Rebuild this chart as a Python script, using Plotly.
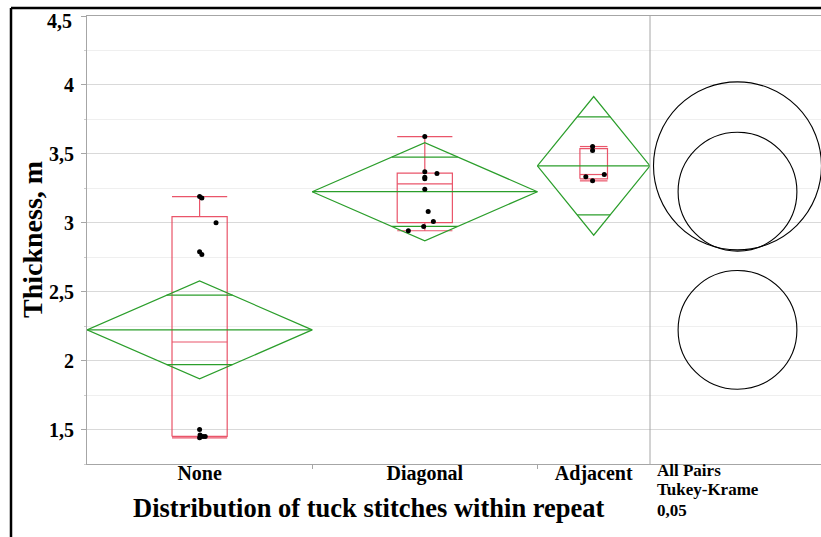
import numpy as np
import plotly.graph_objects as go

# ---- data: fabric thickness by distribution of tuck stitches ----
groups = ["None", "Diagonal", "Adjacent"]
thickness_none = [3.19, 3.18, 3.00, 2.79, 2.77, 1.50, 1.46, 1.45, 1.45, 1.44]
thickness_diagonal = [3.625, 3.370, 3.357, 3.331, 3.319, 3.244, 3.082, 3.010, 2.973, 2.942]
thickness_adjacent = [3.553, 3.524, 3.350, 3.333, 3.304]
y_ticks = [1.5, 2.0, 2.5, 3.0, 3.5, 4.0, 4.5]

# horizontal jitter of the points (x units, one entry per point)
jitter_none = [0.0, 0.1, 0.73, 0.0, 0.1, 0.0, 0.02, 0.15, 0.25, 0.0]
jitter_diagonal = [0.0, 0.0, 0.54, 0.0, 0.0, 0.0, 0.15, 0.38, -0.05, -0.73]
jitter_adjacent = [-0.05, -0.05, 0.47, -0.35, -0.05]

# critical values, alpha = 0.05, 3 groups, 22 error df
T_CRIT = 2.074                      # Student t, two-sided
Q_TUKEY = 3.553 / np.sqrt(2)        # studentized range / sqrt(2)

samples = [np.array(thickness_none), np.array(thickness_diagonal), np.array(thickness_adjacent)]
jitters = [jitter_none, jitter_diagonal, jitter_adjacent]

# ---- figure geometry (pixels) ----
W, H = 821, 537
M_L, M_R, M_T, M_B = 87, 0, 16, 73
PLOT_W, PLOT_H = W - M_L - M_R, H - M_T - M_B
SPLIT_PX = 650                       # left edge of the comparison-circle panel
Y_RANGE = [1.25, 4.5]
split = (SPLIT_PX - M_L) / PLOT_W
px_per_unit = PLOT_H / (Y_RANGE[1] - Y_RANGE[0])


def px_to_paper_y(py):
    return (H - M_B - py) / PLOT_H


def px_to_paper_x(px):
    return (px - M_L) / PLOT_W


# ---- one-way ANOVA summaries ----
n = np.array([len(s) for s in samples])
means = np.array([s.mean() for s in samples])
sse = sum(((s - s.mean()) ** 2).sum() for s in samples)
mse = sse / (n.sum() - len(samples))
se = np.sqrt(mse / n)
ci = T_CRIT * se
radius = Q_TUKEY * se

left = np.concatenate([[0], np.cumsum(n)[:-1]]).astype(float)
right = np.cumsum(n).astype(float)
center = (left + right) / 2


def jmp_quantile(vals, p):
    v = np.sort(vals)
    pos = p * (len(v) + 1)
    lo = int(np.floor(pos))
    frac = pos - lo
    lo = min(max(lo, 1), len(v))
    hi = min(lo + 1, len(v))
    return v[lo - 1] + frac * (v[hi - 1] - v[lo - 1])


GREEN = "#2b9e2b"
RED = "#e8435a"

dx, dy = [], []      # diamonds
bx, by = [], []      # box plots
for i in range(len(groups)):
    L, R, C, m, c = left[i], right[i], center[i], means[i], ci[i]
    # mean diamond
    dx += [L, C, R, C, L, None]
    dy += [m, m + c, m, m - c, m, None]
    dx += [L, R, None]
    dy += [m, m, None]
    # overlap marks
    h = (R - L) / 2 * (1 - 1 / np.sqrt(2))
    for sgn in (1, -1):
        dx += [C - h, C + h, None]
        dy += [m + sgn * c / np.sqrt(2)] * 2 + [None]

    # outlier box plot
    s = samples[i]
    q1, med, q3 = (jmp_quantile(s, p) for p in (0.25, 0.5, 0.75))
    iqr = q3 - q1
    hi_w = s[s <= q3 + 1.5 * iqr].max()
    lo_w = s[s >= q1 - 1.5 * iqr].min()
    bw = 0.245 * (R - L) / 2
    bx += [C - bw, C + bw, C + bw, C - bw, C - bw, None]
    by += [q1, q1, q3, q3, q1, None]
    bx += [C - bw, C + bw, None, C, C, None, C, C, None]
    by += [med, med, None, q3, hi_w, None, q1, lo_w, None]
    bx += [C - bw, C + bw, None, C - bw, C + bw, None]
    by += [hi_w, hi_w, None, lo_w, lo_w, None]

px_pts, py_pts = [], []
for i, s in enumerate(samples):
    px_pts += list(center[i] + np.array(jitters[i]))
    py_pts += list(s)

fig = go.Figure()
fig.add_trace(go.Scatter(x=bx, y=by, mode="lines", line=dict(color=RED, width=1.2),
                         opacity=0.9, hoverinfo="skip", showlegend=False))
fig.add_trace(go.Scatter(x=dx, y=dy, mode="lines", line=dict(color=GREEN, width=1.2),
                         hoverinfo="skip", showlegend=False))
fig.add_trace(go.Scatter(x=px_pts, y=py_pts, mode="markers",
                         marker=dict(color="black", size=5), showlegend=False))
# comparison-circle panel
fig.add_trace(go.Scatter(x=[0] * len(groups), y=list(means), mode="markers",
                         marker=dict(size=1, opacity=0), xaxis="x2", yaxis="y",
                         hoverinfo="skip", showlegend=False))

shapes = []
for i in range(len(groups)):
    shapes.append(dict(type="circle", xref="x2", yref="y",
                       x0=-radius[i], x1=radius[i],
                       y0=means[i] - radius[i], y1=means[i] + radius[i],
                       line=dict(color="black", width=1.1)))
# panel divider
shapes.append(dict(type="line", xref="paper", yref="paper", x0=split, x1=split, y0=0, y1=1,
                   line=dict(color="#a6a6a6", width=1)))
# outer frame
fx = px_to_paper_x(11)
fy = px_to_paper_y(8)
shapes.append(dict(type="line", xref="paper", yref="paper", x0=fx, x1=1.01, y0=fy, y1=fy,
                   line=dict(color="black", width=2.5)))
shapes.append(dict(type="line", xref="paper", yref="paper", x0=fx, x1=fx, y0=fy, y1=-0.2,
                   line=dict(color="black", width=2.5)))

FONT = "Liberation Serif"
TICK_FONT = dict(family=FONT, size=20, weight="bold", color="black")
panel_w = W - SPLIT_PX
x2_left = -(737.5 - SPLIT_PX) / px_per_unit
x2_range = [x2_left, x2_left + panel_w / px_per_unit]


def fmt(v):
    return f"{v:g}".replace(".", ",")


# the topmost label sits just inside the plot instead of being centred on the edge
tick_text = [fmt(v) if v < Y_RANGE[1] else "" for v in y_ticks]
annotations = [
    dict(text=fmt(v), xref="paper", yref="y", x=px_to_paper_x(74), y=v, yshift=-5,
         xanchor="right", yanchor="middle", showarrow=False, font=TICK_FONT)
    for v in y_ticks if v >= Y_RANGE[1]
]
annotations += [
    dict(text="Thickness, m", xref="paper", yref="paper",
         x=px_to_paper_x(32), y=px_to_paper_y(240), textangle=-90,
         showarrow=False, xanchor="center", yanchor="middle",
         font=dict(family=FONT, size=28, weight="bold")),
    dict(text="Distribution of tuck stitches within repeat", xref="paper", yref="paper",
         x=split / 2, y=px_to_paper_y(508), showarrow=False,
         xanchor="center", yanchor="middle",
         font=dict(family=FONT, size=26.5, weight="bold")),
]
for k, line in enumerate(["All Pairs", "Tukey-Krame", "0,05"]):
    annotations.append(dict(text=line, xref="paper", yref="paper",
                            x=px_to_paper_x(655), y=px_to_paper_y(470 + 20 * k),
                            showarrow=False, xanchor="left", yanchor="middle",
                            font=dict(family=FONT, size=17, weight="bold")))

fig.update_layout(
    width=W, height=H,
    margin=dict(l=M_L, r=M_R, t=M_T, b=M_B),
    paper_bgcolor="white", plot_bgcolor="white",
    showlegend=False,
    font=dict(family=FONT, color="black"),
    xaxis=dict(domain=[0, split], range=[0, n.sum()],
               tickmode="array", tickvals=list(center), ticktext=groups,
               ticks="", tickfont=TICK_FONT, ticklabelstandoff=-9,
               showgrid=False, zeroline=False,
               showline=True, linecolor="#a6a6a6", linewidth=1, mirror=True,
               minor=dict(tickmode="array", tickvals=list(right[:-1]), ticks="outside",
                          ticklen=4, tickcolor="#a6a6a6", showgrid=False)),
    xaxis2=dict(domain=[split, 1], range=x2_range, anchor="y",
                showticklabels=False, ticks="", showgrid=False, zeroline=False,
                showline=True, linecolor="#a6a6a6", linewidth=1, mirror=True),
    yaxis=dict(range=Y_RANGE, tickmode="array", tickvals=y_ticks, ticktext=tick_text,
               tickfont=TICK_FONT, ticklabelstandoff=3,
               ticks="outside", ticklen=5, tickcolor="#a6a6a6",
               showgrid=True, gridcolor="#d9d9d9", gridwidth=1, zeroline=False,
               showline=True, linecolor="#a6a6a6", linewidth=1,
               minor=dict(dtick=0.25, tick0=0, showgrid=True, gridcolor="#efefef",
                          ticks="outside", ticklen=2, tickcolor="#cccccc")),
    shapes=shapes,
    annotations=annotations,
)

fig.write_html("out.html")
